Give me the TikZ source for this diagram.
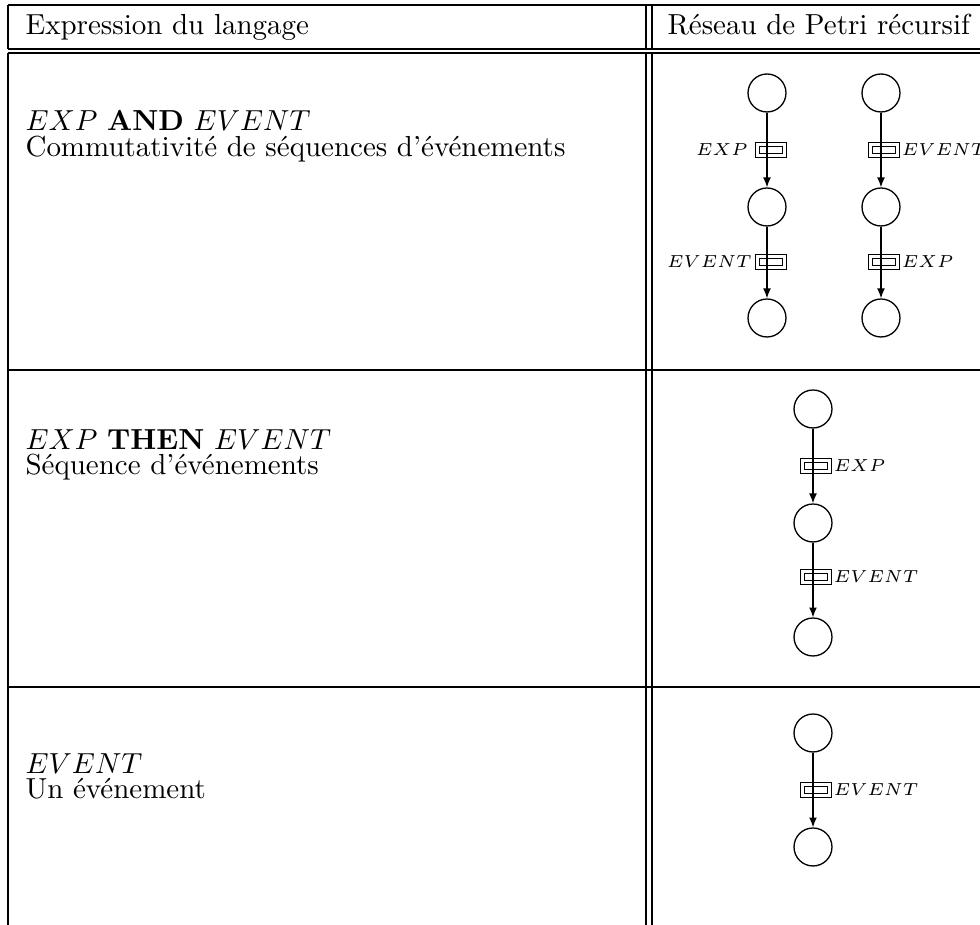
\documentclass[tikz,border=0pt]{standalone}
\usetikzlibrary{arrows.meta}
\begin{document}
\begin{tikzpicture}[x=0.345pt,y=-0.345pt,
  rule/.style={line width=0.4pt},
  place/.style={circle,draw,line width=0.45pt,minimum size=13.1pt,inner sep=0pt},
  trans/.style={rectangle,draw,line width=0.35pt,minimum width=10.4pt,
    minimum height=5.1pt,inner sep=0pt,
    path picture={\draw[line width=0.35pt]
      ([shift={(-3.9pt,-1.1pt)}]path picture bounding box.center) rectangle
      ([shift={(3.9pt,1.1pt)}]path picture bounding box.center);}},
  arc/.style={line width=0.45pt,-{Latex[length=3.4pt,width=2.7pt]}},
  lbl/.style={font=\fontsize{5.9}{7}\selectfont,inner sep=0.6pt},
  cell/.style={anchor=base west,inner sep=0pt}]
\useasboundingbox (0,0) rectangle (980,925);

% table rules
\draw[rule] (8,5) -- (980,5);
\draw[rule] (8,49) -- (980,49);
\draw[rule] (8,53) -- (980,53);
\draw[rule] (8,370) -- (980,370);
\draw[rule] (8,687) -- (980,687);
\draw[rule] (8,5) -- (8,49);
\draw[rule] (8,53) -- (8,925);
\draw[rule] (646,5) -- (646,49);
\draw[rule] (646,53) -- (646,925);
\draw[rule] (652,5) -- (652,49);
\draw[rule] (652,53) -- (652,925);

% header
\node[cell] (h1) at (25,35) {Expression du langage};
\node[cell] (h2) at (667,35) {R\'eseau de Petri r\'ecursif};

% left column texts
\node[cell] (e1) at (25,131) {$EXP$ \textbf{AND} $EVENT$};
\node[cell] (d1) at (25,157) {Commutativit\'e de s\'equences d'\'ev\'enements};
\node[cell] (e2) at (25,450) {$EXP$ \textbf{THEN} $EVENT$};
\node[cell] (d2) at (25,475) {S\'equence d'\'ev\'enements};
\node[cell] (e3) at (25,774) {$EVENT$};
\node[cell] (d3) at (25,799) {Un \'ev\'enement};

% net 1a: EXP then EVENT
\node[place] (a1) at (767,93) {};
\node[place] (a2) at (767,207) {};
\node[place] (a3) at (767,318) {};
\node[trans] (ta1) at (771,150) {};
\node[trans] (ta2) at (771,262) {};
\node[lbl,anchor=east,inner sep=2.4pt] at (ta1.west) {$EXP$};
\node[lbl,anchor=east,inner sep=1.1pt] at (ta2.west) {$EVENT$};
\draw[arc] (a1) -- (a2);
\draw[arc] (a2) -- (a3);

% net 1b: EVENT then EXP
\node[place] (b1) at (881,93) {};
\node[place] (b2) at (881,207) {};
\node[place] (b3) at (881,318) {};
\node[trans] (tb1) at (884,150) {};
\node[trans] (tb2) at (884,262) {};
\node[lbl,anchor=west] at (tb1.east) {$EVENT$};
\node[lbl,anchor=west] at (tb2.east) {$EXP$};
\draw[arc] (b1) -- (b2);
\draw[arc] (b2) -- (b3);

% net 2: sequence
\node[place] (c1) at (813,409) {};
\node[place] (c2) at (813,523) {};
\node[place] (c3) at (813,637) {};
\node[trans] (tc1) at (816,466) {};
\node[trans] (tc2) at (816,577) {};
\node[lbl,anchor=west] at (tc1.east) {$EXP$};
\node[lbl,anchor=west] at (tc2.east) {$EVENT$};
\draw[arc] (c1) -- (c2);
\draw[arc] (c2) -- (c3);

% net 3: single event
\node[place] (d1p) at (813,733) {};
\node[place] (d2p) at (813,847) {};
\node[trans] (td1) at (816,790) {};
\node[lbl,anchor=west] at (td1.east) {$EVENT$};
\draw[arc] (d1p) -- (d2p);
\end{tikzpicture}
\end{document}
